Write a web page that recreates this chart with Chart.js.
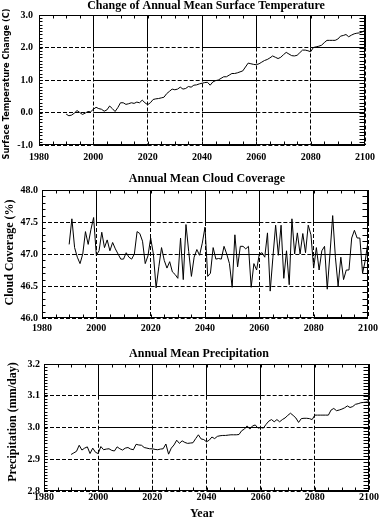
<!DOCTYPE html>
<html>
<head>
<meta charset="utf-8">
<script src="https://cdn.jsdelivr.net/npm/chart.js@4.4.1/dist/chart.umd.min.js"></script>
<style>
  html, body { margin: 0; padding: 0; background: #fff; }
  #wrap { position: relative; width: 384px; height: 519px; }
  canvas { position: absolute; left: 0; }
</style>
</head>
<body>
<div id="wrap">
  <canvas id="tempChart" width="384" height="170" style="top:0"></canvas>
  <canvas id="cloudChart" width="384" height="170" style="top:170px"></canvas>
  <canvas id="precipChart" width="384" height="179" style="top:340px"></canvas>
</div>
<script>
// Model years (annual means)
const years = [
  1990, 1991, 1992, 1993, 1994, 1995, 1996, 1997, 1998, 1999,
  2000, 2001, 2002, 2003, 2004, 2005, 2006, 2007, 2008, 2009,
  2010, 2011, 2012, 2013, 2014, 2015, 2016, 2017, 2018, 2019,
  2020, 2021, 2022, 2023, 2024, 2025, 2026, 2027, 2028, 2029,
  2030, 2031, 2032, 2033, 2034, 2035, 2036, 2037, 2038, 2039,
  2040, 2041, 2042, 2043, 2044, 2045, 2046, 2047, 2048, 2049,
  2050, 2051, 2052, 2053, 2054, 2055, 2056, 2057, 2058, 2059,
  2060, 2061, 2062, 2063, 2064, 2065, 2066, 2067, 2068, 2069,
  2070, 2071, 2072, 2073, 2074, 2075, 2076, 2077, 2078, 2079,
  2080, 2081, 2082, 2083, 2084, 2085, 2086, 2087, 2088, 2089,
  2090, 2091, 2092, 2093, 2094, 2095, 2096, 2097, 2098, 2099,
  2100
];

// Surface temperature change (C)
const tempChange = [
  -0.05, -0.10, -0.08, -0.02, 0.06, 0.00, -0.06, -0.02, 0.03, 0.02,
  0.10, 0.16, 0.12, 0.10, 0.04, 0.08, 0.20, 0.12, 0.03, 0.15,
  0.30, 0.30, 0.25, 0.27, 0.30, 0.28, 0.32, 0.30, 0.38, 0.30,
  0.24, 0.30, 0.40, 0.42, 0.43, 0.45, 0.47, 0.58, 0.65, 0.72,
  0.70, 0.72, 0.78, 0.72, 0.74, 0.80, 0.78, 0.84, 0.85, 0.88,
  0.90, 0.92, 0.93, 0.84, 0.94, 0.98, 1.00, 1.05, 1.10, 1.10,
  1.15, 1.20, 1.20, 1.22, 1.25, 1.28, 1.40, 1.52, 1.50, 1.48,
  1.47, 1.50, 1.55, 1.60, 1.63, 1.68, 1.74, 1.70, 1.66, 1.70,
  1.78, 1.85, 1.80, 1.75, 1.74, 1.76, 1.84, 1.92, 1.92, 1.90,
  1.87, 2.00, 2.02, 2.04, 2.07, 2.15, 2.22, 2.22, 2.22, 2.22,
  2.26, 2.35, 2.37, 2.40, 2.33, 2.38, 2.42, 2.44, 2.45, 2.48,
  2.53
];

// Cloud coverage (%)
const cloudCover = [
  47.15, 47.55, 47.10, 46.95, 46.85, 47.00, 47.35, 47.15, 47.38, 47.57,
  46.98, 47.05, 47.34, 47.10, 47.22, 47.05, 47.18, 47.08, 47.00, 46.92,
  46.92, 47.02, 46.95, 46.92, 47.00, 47.35, 47.32, 47.20, 46.85, 46.97,
  47.25, 47.00, 46.47, 46.80, 47.10, 46.90, 46.78, 46.88, 46.72, 46.68,
  46.62, 47.25, 46.60, 47.46, 47.04, 46.65, 46.95, 47.07, 46.98, 47.17,
  47.42, 46.65, 46.70, 47.10, 46.92, 46.93, 46.92, 47.12, 47.00, 46.85,
  46.48, 47.30, 46.80, 47.12, 47.12, 47.08, 47.12, 46.48, 46.85, 46.75,
  47.00, 47.02, 46.95, 47.33, 46.42, 46.95, 47.45, 46.98, 47.45, 46.62,
  47.05, 46.52, 47.55, 47.00, 47.33, 47.00, 47.32, 47.02, 47.45, 47.30,
  46.78, 47.10, 46.75, 47.05, 47.12, 46.45, 47.00, 47.60, 46.95, 46.50,
  46.95, 46.60, 46.75, 46.75, 47.25, 47.37, 47.25, 47.25, 46.70, 46.90,
  47.20
];

// Precipitation (mm/day)
const precip = [
  2.915, 2.920, 2.925, 2.944, 2.929, 2.935, 2.939, 2.918, 2.935, 2.922,
  2.918, 2.940, 2.930, 2.932, 2.933, 2.928, 2.926, 2.939, 2.933, 2.929,
  2.935, 2.937, 2.932, 2.930, 2.947, 2.945, 2.944, 2.937, 2.935, 2.933,
  2.933, 2.931, 2.930, 2.932, 2.933, 2.948, 2.916, 2.935, 2.945, 2.960,
  2.950, 2.958, 2.953, 2.950, 2.951, 2.952, 2.965, 2.977, 2.964, 2.962,
  2.955, 2.960, 2.970, 2.965, 2.972, 2.974, 2.975, 2.975, 2.976, 2.977,
  2.977, 2.977, 2.978, 2.990, 2.995, 3.005, 2.995, 3.005, 3.008, 2.998,
  3.000, 2.998, 3.010, 3.020, 3.025, 3.018, 3.025, 3.018, 3.025, 3.030,
  3.038, 3.045, 3.038, 3.030, 3.016, 3.028, 3.029, 3.029, 3.028, 3.025,
  3.039, 3.039, 3.039, 3.039, 3.039, 3.039, 3.055, 3.060, 3.053, 3.055,
  3.058, 3.062, 3.068, 3.063, 3.066, 3.073, 3.075, 3.078, 3.079, 3.080,
  3.088
];

// Tick labels
const yearTicks = [1980, 2000, 2020, 2040, 2060, 2080, 2100];
const tempTicks = [-1.0, 0.0, 1.0, 2.0, 3.0];
const cloudTicks = [46.0, 46.5, 47.0, 47.5, 48.0];
const precipTicks = [2.8, 2.9, 3.0, 3.1, 3.2];

const SERIF = "'Liberation Serif', 'Times New Roman', serif";

// horizontal grid lines: dashed cell, solid cell, dashed cell...
function rowDash(c) {
    const a = c.chart.chartArea;
    const cell = (a.right - a.left) / (yearTicks.length - 1);
    const n = Math.floor(cell / 6);
    const arr = [];
    for (let i = 0; i < n; i++) arr.push(4, 2);
    arr[arr.length - 1] += cell - n * 6;
    arr.push(cell, 0);
    return arr;
}

// vertical grid lines: solid in the top cell, dashed below
function colDash(c) {
    const a = c.chart.chartArea;
    const ny = c.chart.scales.y.ticks.length - 1;
    const h = a.bottom - a.top;
    const arr = [h / ny, 0];
    for (let i = 0; i < Math.ceil(h / 6) + 1; i++) arr.push(4, 2);
    return arr;
}

// box around the plot plus the small inward ticks
const frameTicks = {
    id: 'frameTicks',
    afterDatasetsDraw(chart, args, opts) {
        const { ctx, chartArea: a, scales: { x, y } } = chart;
        const L = Math.round(a.left) + 0.5, R = Math.round(a.right) - 0.5;
        const T = Math.round(a.top) + 0.5, B = Math.round(a.bottom) - 0.5;
        ctx.save();
        ctx.strokeStyle = '#000';
        ctx.lineWidth = 1;
        ctx.setLineDash([]);
        ctx.beginPath();
        const nx = Math.round((x.max - x.min) / opts.xMinor);
        for (let i = 1; i < nx; i++) {
            const px = Math.round(x.getPixelForValue(x.min + i * opts.xMinor)) + 0.5;
            ctx.moveTo(px, T); ctx.lineTo(px, T + opts.xLen);
            ctx.moveTo(px, B); ctx.lineTo(px, B - opts.xLen);
        }
        const ny = Math.round((y.max - y.min) / opts.yMinor);
        for (let i = 1; i < ny; i++) {
            const py = Math.round(y.getPixelForValue(y.min + i * opts.yMinor)) + 0.5;
            ctx.moveTo(L, py); ctx.lineTo(L + opts.leftLen, py);
            ctx.moveTo(R, py); ctx.lineTo(R - opts.rightLen, py);
        }
        ctx.stroke();
        ctx.strokeRect(L, T, R - L, B - T);
        ctx.restore();
    }
};

// panel title, axis titles
const panelText = {
    id: 'panelText',
    afterDraw(chart, args, opts) {
        const ctx = chart.ctx;
        ctx.save();
        ctx.fillStyle = '#000';
        ctx.textAlign = 'center';
        ctx.textBaseline = 'middle';
        ctx.font = 'bold 12px ' + SERIF;
        ctx.fillText(opts.title, opts.titleX, opts.titleY);
        if (opts.xTitle) {
            ctx.fillText(opts.xTitle, opts.xTitleX, opts.xTitleY);
        }
        ctx.translate(opts.yTitleX, opts.yTitleY);
        ctx.rotate(-Math.PI / 2);
        ctx.font = opts.yTitleFont;
        ctx.fillText(opts.yTitle, 0, 0);
        ctx.restore();
    }
};

function makePanel(id, values, p) {
    const canvas = document.getElementById(id);
    const W = canvas.width, H = canvas.height;
    const xH = p.xAxisHeight;
    return new Chart(canvas.getContext('2d'), {
        type: 'line',
        data: {
            datasets: [{
                data: years.map((yr, i) => ({ x: yr, y: values[i] })),
                borderColor: '#000',
                borderWidth: 1,
                pointRadius: 0,
                tension: 0,
                fill: false
            }]
        },
        options: {
            responsive: false,
            animation: false,
            events: [],
            layout: {
                padding: { left: 0, top: p.area.top, right: W - p.area.right, bottom: H - p.area.bottom - xH }
            },
            plugins: {
                legend: { display: false },
                tooltip: { enabled: false },
                frameTicks: p.ticks,
                panelText: p.text
            },
            scales: {
                x: {
                    type: 'linear',
                    min: 1980,
                    max: 2100,
                    afterBuildTicks: s => { s.ticks = yearTicks.map(v => ({ value: v })); },
                    afterFit: s => { s.height = xH; },
                    ticks: {
                        color: '#000',
                        padding: p.xPad,
                        maxRotation: 0,
                        autoSkip: false,
                        font: { family: SERIF, size: 10, weight: 'bold' },
                        callback: v => String(v)
                    },
                    grid: { color: '#000', lineWidth: 1, drawTicks: false },
                    border: { display: false, dash: colDash }
                },
                y: {
                    min: p.yTicks[0],
                    max: p.yTicks[p.yTicks.length - 1],
                    afterBuildTicks: s => { s.ticks = p.yTicks.map(v => ({ value: v })); },
                    afterFit: s => { s.width = p.area.left; },
                    ticks: {
                        color: '#000',
                        padding: p.yPad,
                        font: { family: SERIF, size: 10, weight: 'bold' },
                        callback: v => Number(v).toFixed(1)
                    },
                    grid: { color: '#000', lineWidth: 1, drawTicks: false },
                    border: { display: false, dash: rowDash }
                }
            }
        },
        plugins: [frameTicks, panelText]
    });
}

makePanel('tempChart', tempChange, {
    area: { left: 39, right: 365, top: 15, bottom: 145 },
    xAxisHeight: 20, xPad: 6, yPad: 6,
    yTicks: tempTicks,
    ticks: { xMinor: 5, xLen: 3, yMinor: 0.1, leftLen: 3, rightLen: 5 },
    text: {
        title: 'Change of Annual Mean Surface Temperature', titleX: 206, titleY: 5.5,
        yTitle: 'Surface Temperature Change (C)', yTitleX: 7, yTitleY: 84,
        yTitleFont: "bold 8.2px 'DejaVu Sans', sans-serif"
    }
});

makePanel('cloudChart', cloudCover, {
    area: { left: 42, right: 368, top: 20, bottom: 148 },
    xAxisHeight: 20, xPad: 4, yPad: 4,
    yTicks: cloudTicks,
    ticks: { xMinor: 5, xLen: 3, yMinor: 0.1, leftLen: 3, rightLen: 5 },
    text: {
        title: 'Annual Mean Cloud Coverage', titleX: 207, titleY: 8.5,
        yTitle: 'Cloud Coverage (%)', yTitleX: 10, yTitleY: 82.5,
        yTitleFont: 'bold 12px ' + SERIF
    }
});

makePanel('precipChart', precip, {
    area: { left: 44, right: 369, top: 24, bottom: 151 },
    xAxisHeight: 14, xPad: 0, yPad: 4,
    yTicks: precipTicks,
    ticks: { xMinor: 5, xLen: 3, yMinor: 0.01, leftLen: 3, rightLen: 5 },
    text: {
        title: 'Annual Mean Precipitation', titleX: 199, titleY: 13.5,
        xTitle: 'Year', xTitleX: 202, xTitleY: 173.5,
        yTitle: 'Precipitation (mm/day)', yTitleX: 13, yTitleY: 82,
        yTitleFont: 'bold 12px ' + SERIF
    }
});
</script>
</body>
</html>
